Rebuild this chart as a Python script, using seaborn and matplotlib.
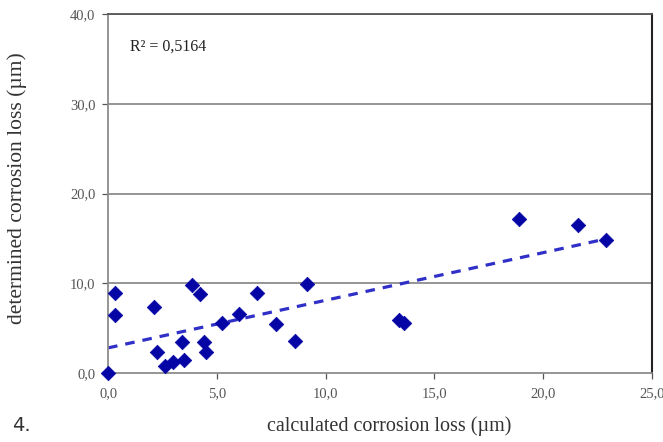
import numpy as np
import matplotlib
matplotlib.use("Agg")
import matplotlib.pyplot as plt
import seaborn as sns
from matplotlib.ticker import FuncFormatter

calc_loss = [0.0, 0.33, 0.33, 2.13, 2.24, 2.62, 3.0, 3.49, 3.39, 3.87, 4.23, 4.41,
             4.49, 5.25, 6.02, 6.83, 7.74, 8.58, 9.15, 13.4, 13.6, 18.9, 21.6, 22.9]
det_loss = [0.0, 8.9, 6.5, 7.35, 2.37, 0.8, 1.26, 1.45, 3.5, 9.8, 8.8, 3.5,
            2.37, 5.6, 6.6, 8.9, 5.45, 3.6, 9.9, 5.9, 5.6, 17.2, 16.5, 14.8]
r2_label = "R² = 0,5164"
x_label = "calculated corrosion loss (µm)"
y_label = "determined corrosion loss (µm)"
fig_label = "4."


def main():
    sns.set_style("white")
    plt.rcParams["font.family"] = ["Liberation Serif", "DejaVu Serif"]

    fig = plt.figure(figsize=(6.63, 4.42), dpi=100)
    ax = fig.add_axes([0.163, 0.156, 0.82, 0.812])

    for yv in [10, 20, 30, 40]:
        ax.axhline(yv, color="#8c8c8c", lw=1.3, zorder=0)

    sns.regplot(x=calc_loss, y=det_loss, scatter=False, ci=None, ax=ax,
                line_kws=dict(color="#3030c8", ls=(0, (3, 2.5)), lw=2.3))
    sns.scatterplot(x=calc_loss, y=det_loss, marker="D", s=55, color="#0505a5",
                    edgecolor="#0505a5", linewidth=0.5, ax=ax, zorder=3, clip_on=False)

    ax.set_xlim(0, 25)
    ax.set_ylim(0, 40)
    ax.set_xticks(np.arange(0, 26, 5))
    ax.set_yticks(np.arange(0, 41, 10))
    fmt = FuncFormatter(lambda v, p: f"{v:.1f}".replace(".", ","))
    ax.xaxis.set_major_formatter(fmt)
    ax.yaxis.set_major_formatter(fmt)
    ax.tick_params(axis="both", labelsize=10.5, colors="#555555", length=4, width=0.9,
                   direction="out", bottom=True, left=True)
    ax.tick_params(axis="x", pad=6)
    ax.tick_params(axis="y", pad=5)

    for s in ["left", "bottom"]:
        ax.spines[s].set_color("#8c8c8c")
        ax.spines[s].set_linewidth(1.3)
    ax.spines["top"].set_color("#555555")
    ax.spines["top"].set_linewidth(1.3)
    ax.spines["right"].set_color("#222222")
    ax.spines["right"].set_linewidth(1.5)

    ax.set_xlabel(x_label, fontsize=14.5, color="#333333")
    ax.xaxis.set_label_coords(0.518, -0.12)
    ax.set_ylabel(y_label, fontsize=15.5, color="#333333")
    ax.yaxis.set_label_coords(-0.15, 0.515)
    ax.text(1.0, 36.4, r2_label, fontsize=11.5, color="#222222", va="center")

    fig.text(0.018, 0.025, fig_label, fontsize=14, color="#333333", family="DejaVu Sans")

    fig.savefig("out.png", dpi=100)


if __name__ == "__main__":
    main()
